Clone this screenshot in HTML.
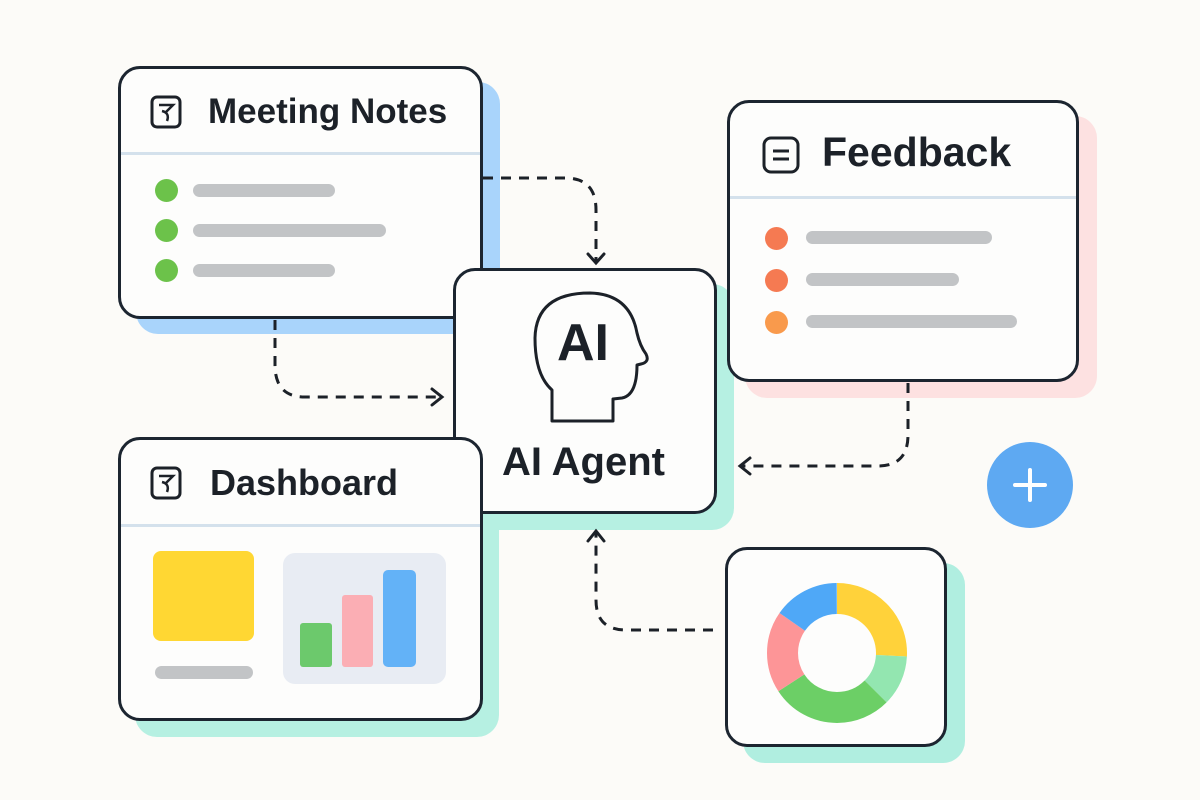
<!DOCTYPE html>
<html><head><style>
body{margin:0;width:1200px;height:800px;background:#fcfbf8;position:relative;overflow:hidden;font-family:"Liberation Sans",sans-serif;}
.sh{position:absolute;border-radius:22px;}
.card{position:absolute;background:#fdfdfc;border:3px solid #1c2530;border-radius:22px;box-sizing:border-box;}
.t{position:absolute;font-weight:bold;color:#1c2128;white-space:nowrap;}
.div{position:absolute;height:3px;background:#d4e1ec;}
.dot{position:absolute;border-radius:50%;width:23px;height:23px;}
.bar{position:absolute;height:13px;border-radius:7px;background:#c2c4c6;}
</style></head><body>
<div class="sh" style="left:136px;top:82px;width:364px;height:252px;background:#a9d4fb"></div>
<div class="sh" style="left:745px;top:116px;width:352px;height:282px;background:#fde1e1"></div>
<div class="sh" style="left:472px;top:284px;width:262px;height:246px;background:#b6f0e2"></div>
<div class="sh" style="left:135px;top:453px;width:364px;height:284px;background:#b6f0e2"></div>
<div class="sh" style="left:743px;top:563px;width:222px;height:200px;background:#b0eee0"></div>

<svg style="position:absolute;left:0;top:0" width="1200" height="800">
<g fill="none" stroke="#1c2128" stroke-width="3" stroke-dasharray="10 8">
<path d="M483 178 H565 Q596 178 596 210 V262"/>
<path d="M275 320 V365 Q275 397 305 397 H440"/>
<path d="M908 383 V435 Q908 466 878 466 H742"/>
<path d="M713 630 H626 Q596 630 596 600 V532"/>
</g>
<g fill="none" stroke="#1c2128" stroke-width="3" stroke-linecap="round">
<path d="M588 254 L596 263 L604 254"/>
<path d="M432 389 L442 397 L432 405"/>
<path d="M750 458 L740 466 L750 474"/>
<path d="M588 541 L596 531 L604 541"/>
</g>
</svg>

<div class="card" style="left:118px;top:66px;width:365px;height:253px"></div>
<div class="div" style="left:121px;top:152px;width:359px"></div>
<svg style="position:absolute;left:150px;top:95px" width="34" height="34"><rect x="2" y="2" width="28" height="30" rx="5" fill="none" stroke="#1c2128" stroke-width="3"/><path d="M9 10 H23 L15 18 M12 16 Q20 18 17 26" fill="none" stroke="#1c2128" stroke-width="2.5"/></svg>
<div class="t" style="left:208px;top:92px;font-size:35px">Meeting Notes</div>
<div class="dot" style="left:155px;top:179px;background:#6cc24a"></div>
<div class="dot" style="left:155px;top:219px;background:#6cc24a"></div>
<div class="dot" style="left:155px;top:259px;background:#6cc24a"></div>
<div class="bar" style="left:193px;top:184px;width:142px"></div>
<div class="bar" style="left:193px;top:224px;width:193px"></div>
<div class="bar" style="left:193px;top:264px;width:142px"></div>

<div class="card" style="left:727px;top:100px;width:352px;height:282px"></div>
<div class="div" style="left:730px;top:196px;width:346px"></div>
<svg style="position:absolute;left:761px;top:135px" width="40" height="40"><rect x="3" y="3" width="34" height="34" rx="7" fill="none" stroke="#1c2128" stroke-width="3"/><path d="M12 16 H28 M12 24 H28" stroke="#1c2128" stroke-width="3"/></svg>
<div class="t" style="left:822px;top:129px;font-size:41px">Feedback</div>
<div class="dot" style="left:765px;top:227px;background:#f57a52"></div>
<div class="dot" style="left:765px;top:269px;background:#f57a52"></div>
<div class="dot" style="left:765px;top:311px;background:#f99a4c"></div>
<div class="bar" style="left:806px;top:231px;width:186px"></div>
<div class="bar" style="left:806px;top:273px;width:153px"></div>
<div class="bar" style="left:806px;top:315px;width:211px"></div>

<div class="card" style="left:453px;top:268px;width:264px;height:246px"></div>
<svg style="position:absolute;left:0;top:0" width="1200" height="800"><path d="M552 421 V390 Q535 375 535 338 Q536 293 590 293 Q630 294 637 333 Q640 346 646 354 Q650 362 641 364 L637 365 Q637 395 622 398 L613 399 V421 Z" fill="none" stroke="#1c2128" stroke-width="3" stroke-linejoin="round"/></svg>
<div class="t" style="left:557px;top:313px;font-size:52px">AI</div>
<div class="t" style="left:502px;top:440px;font-size:40px">AI Agent</div>

<div class="card" style="left:118px;top:437px;width:365px;height:284px"></div>
<div class="div" style="left:121px;top:524px;width:359px"></div>
<svg style="position:absolute;left:150px;top:466px" width="34" height="34"><rect x="2" y="2" width="28" height="30" rx="5" fill="none" stroke="#1c2128" stroke-width="3"/><path d="M9 10 H23 L15 18 M12 16 Q20 18 17 26" fill="none" stroke="#1c2128" stroke-width="2.5"/></svg>
<div class="t" style="left:210px;top:462px;font-size:36px">Dashboard</div>
<div style="position:absolute;left:153px;top:551px;width:101px;height:90px;background:#ffd733;border-radius:8px"></div>
<div class="bar" style="left:155px;top:666px;width:98px"></div>
<div style="position:absolute;left:283px;top:553px;width:163px;height:131px;background:#e8ecf3;border-radius:12px"></div>
<div style="position:absolute;left:300px;top:623px;width:32px;height:44px;background:#6cc96c;border-radius:3px"></div>
<div style="position:absolute;left:342px;top:595px;width:31px;height:72px;background:#fbaeb4;border-radius:3px"></div>
<div style="position:absolute;left:383px;top:570px;width:33px;height:97px;background:#63b2f7;border-radius:5px"></div>

<div class="card" style="left:725px;top:547px;width:222px;height:200px"></div>
<svg style="position:absolute;left:0;top:0" width="1200" height="800">
<g fill="none" stroke-width="31" transform="rotate(-90 837 653)">
<circle cx="837" cy="653" r="54.5" pathLength="360" stroke="#ffd23a" stroke-dasharray="93 360"/>
<circle cx="837" cy="653" r="54.5" pathLength="360" stroke="#93e6b0" stroke-dasharray="0 93 42 360"/>
<circle cx="837" cy="653" r="54.5" pathLength="360" stroke="#6ccf66" stroke-dasharray="0 135 102 360"/>
<circle cx="837" cy="653" r="54.5" pathLength="360" stroke="#fd9597" stroke-dasharray="0 237 68 360"/>
<circle cx="837" cy="653" r="54.5" pathLength="360" stroke="#4fa8f7" stroke-dasharray="0 305 55 360"/>
</g>
<circle cx="1030" cy="485" r="43" fill="#5ea9f2"/>
<path d="M1030 470 V500 M1015 485 H1045" stroke="#fff" stroke-width="4" stroke-linecap="round"/>
</svg>
</body></html>
